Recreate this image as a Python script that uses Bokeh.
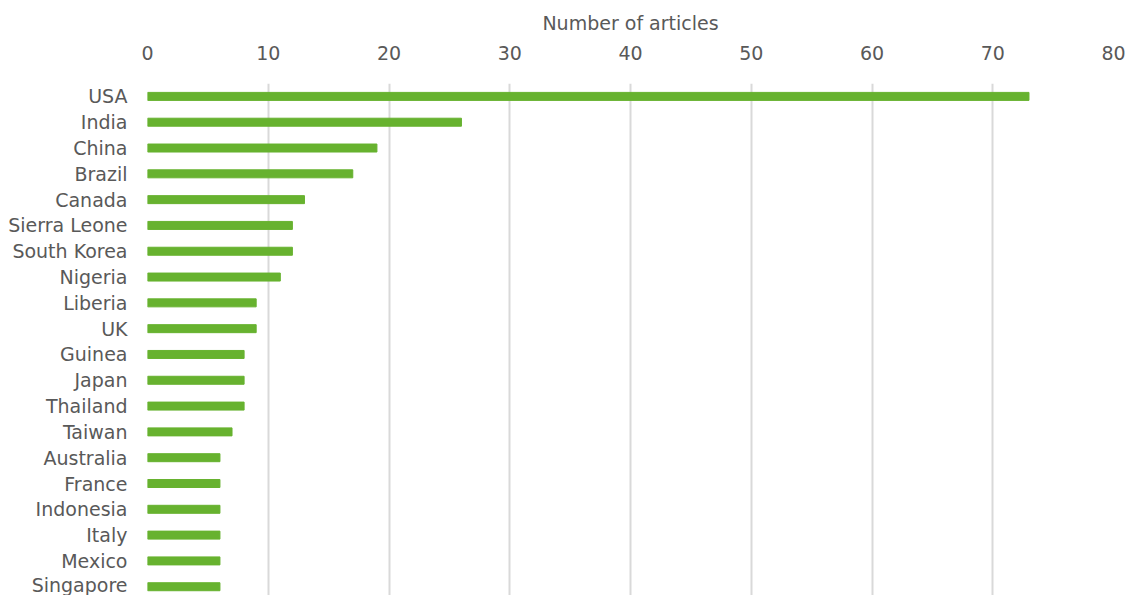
from bokeh.plotting import figure
from bokeh.models import Range1d, FixedTicker
from bokeh.embed import file_html
from bokeh.resources import INLINE

countries = ["USA", "India", "China", "Brazil", "Canada", "Sierra Leone", "South Korea",
             "Nigeria", "Liberia", "UK", "Guinea", "Japan", "Thailand", "Taiwan",
             "Australia", "France", "Indonesia", "Italy", "Mexico", "Singapore"]
articles = [73, 26, 19, 17, 13, 12, 12, 11, 9, 9, 8, 8, 8, 7, 6, 6, 6, 6, 6, 6]
x_ticks = [0, 10, 20, 30, 40, 50, 60, 70, 80]

FONT = "DejaVu Sans"
TXT = "#595959"
FS = "19px"

ypos = list(range(len(countries)))

p = figure(width=1127, height=595, output_backend="svg", toolbar_location=None,
           x_range=Range1d(0, 80), y_range=Range1d(19.34, -0.5),
           x_axis_location="above")
p.min_border_left = 147
p.min_border_right = 14
p.min_border_bottom = 0
p.min_border_top = 83
p.outline_line_color = None
p.background_fill_color = "white"
p.border_fill_color = "white"

p.hbar(y=ypos, right=articles, left=0, height=0.31, color="#67b22f")

xa = p.xaxis[0]
xa.ticker = FixedTicker(ticks=x_ticks)
xa.axis_label = "Number of articles"
xa.axis_label_text_font = FONT
xa.axis_label_text_font_size = FS
xa.axis_label_text_font_style = "normal"
xa.axis_label_text_color = TXT
xa.axis_label_standoff = 9
xa.major_label_text_font = FONT
xa.major_label_text_font_size = FS
xa.major_label_text_color = TXT
xa.major_label_standoff = 24
xa.axis_line_color = None
xa.major_tick_line_color = None
xa.minor_tick_line_color = None
xa.major_tick_out = 0
xa.major_tick_in = 0

ya = p.yaxis[0]
ya.ticker = FixedTicker(ticks=ypos)
ya.major_label_overrides = {i: c for i, c in enumerate(countries)}
ya.major_label_text_font = FONT
ya.major_label_text_font_size = FS
ya.major_label_text_color = TXT
ya.major_label_standoff = 20
ya.axis_line_color = None
ya.major_tick_line_color = None
ya.minor_tick_line_color = None
ya.major_tick_out = 0
ya.major_tick_in = 0

p.xgrid.grid_line_color = "#d9d9d9"
p.xgrid.grid_line_width = 2
p.ygrid.grid_line_color = None

open("out.html", "w").write(file_html(p, INLINE))
